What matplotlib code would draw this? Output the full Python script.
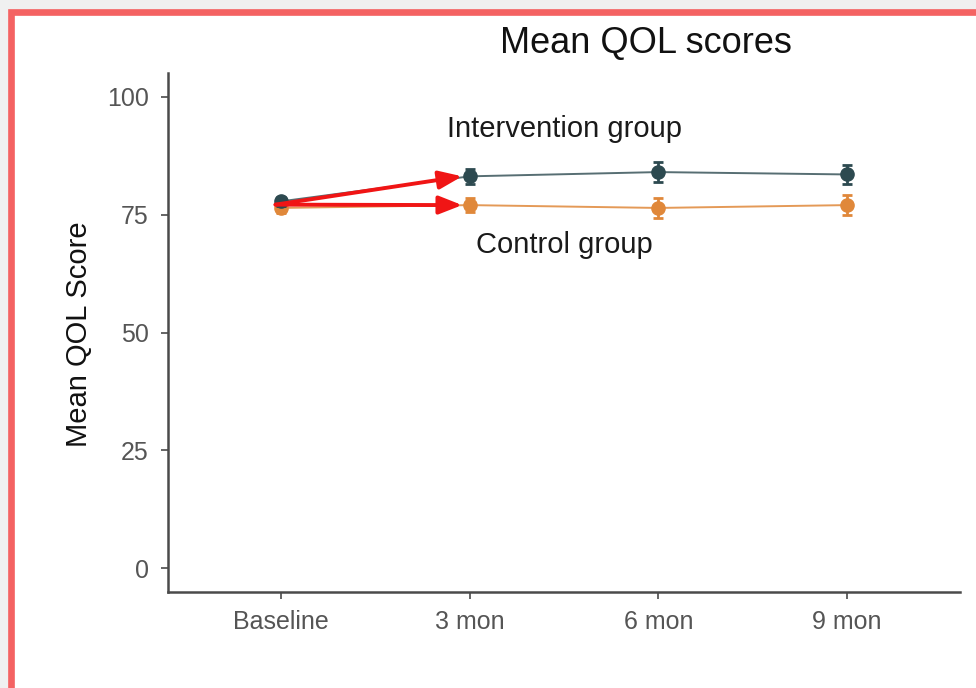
import numpy as np
import matplotlib.pyplot as plt
import matplotlib.patches as mpatches

plt.rcParams['font.family'] = ['Liberation Sans', 'DejaVu Sans']

# mean QOL score per visit, with error bar half-widths
visits = ['Baseline', '3 mon', '6 mon', '9 mon']
interv_mean = [77.8, 83.1, 84.0, 83.5]
interv_err = [1.0, 1.6, 2.1, 2.1]
ctrl_mean = [76.4, 77.0, 76.4, 77.0]
ctrl_err = [1.0, 1.5, 2.1, 2.2]
yticks = [0, 25, 50, 75, 100]

dark = '#2d4a50'
orange = '#e0883a'

fig = plt.figure(figsize=(9.76, 6.88), dpi=100)
fig.patch.set_facecolor('#f0f0f0')
# white panel with a red frame on the left and top
frame = mpatches.Rectangle((10.5 / 976, -0.2), 1.2, 1.2 - 12 / 688,
                           transform=fig.transFigure, facecolor='white',
                           edgecolor='#f46262', linewidth=4.8, zorder=-10)
fig.patches.append(frame)

ax = fig.add_axes([168 / 976, 1 - 592 / 688, (960 - 168) / 976, (592 - 73) / 688])
ax.set_facecolor('none')

x = np.arange(1, len(visits) + 1)
ax.plot(x, ctrl_mean, color=orange, lw=1.4, alpha=0.85, zorder=2)
ax.plot(x, interv_mean, color=dark, lw=1.4, alpha=0.8, zorder=2)
ax.errorbar(x, ctrl_mean, yerr=ctrl_err, fmt='o', color=orange, ms=9.5,
            elinewidth=2, capsize=3.5, capthick=2, zorder=3)
ax.errorbar(x, interv_mean, yerr=interv_err, fmt='o', color=dark, ms=9.5,
            elinewidth=2, capsize=3.5, capthick=2, zorder=4)

# arrows from baseline to the 3 month values
start = (0.97, (interv_mean[0] + ctrl_mean[0]) / 2)
for yv in [interv_mean[1], ctrl_mean[1]]:
    ax.annotate('', xy=(1.96, yv), xytext=start,
                arrowprops=dict(arrowstyle='-|>,head_length=1.4,head_width=0.55',
                                color='#f01515', lw=2.8, shrinkA=0, shrinkB=0),
                zorder=6)

ax.text(2.5, 93.1, 'Intervention group', ha='center', va='center',
        fontsize=21, color='#1a1a1a')
ax.text(2.5, 68.6, 'Control group', ha='center', va='center',
        fontsize=21, color='#1a1a1a')

ax.set_xlim(0.4, 4.6)
ax.set_ylim(-5, 105)
ax.set_xticks(x)
ax.set_xticklabels(visits)
ax.set_yticks(yticks)
for s in ['top', 'right']:
    ax.spines[s].set_visible(False)
for s in ['left', 'bottom']:
    ax.spines[s].set_color('#4a4a4a')
    ax.spines[s].set_linewidth(1.8)
ax.tick_params(axis='both', colors='#4a4a4a', length=5, width=1.2,
               labelsize=18, labelcolor='#555555')
ax.tick_params(axis='x', pad=8)
ax.tick_params(axis='y', pad=9)

fig.text(646 / 976, 1 - 44 / 688, 'Mean QOL scores', ha='center', va='center',
         fontsize=26, color='#111111')
fig.text(79 / 976, 1 - 334 / 688, 'Mean QOL Score', ha='center', va='center',
         rotation=90, fontsize=21, color='#111111')

fig.savefig('out.png', dpi=100, facecolor=fig.get_facecolor())
